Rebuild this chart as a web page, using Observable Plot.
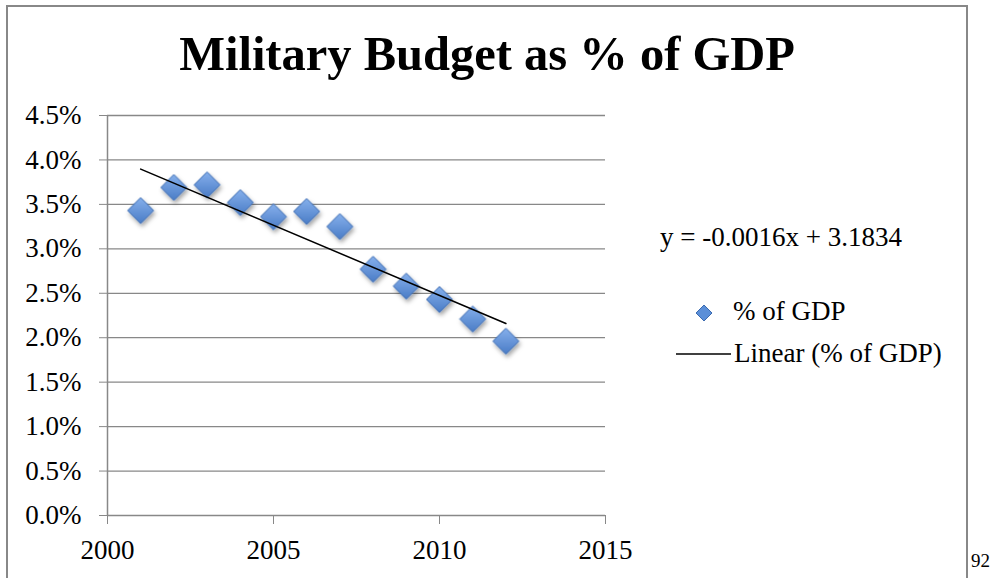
<!DOCTYPE html>
<html>
<head>
<meta charset="utf-8">
<script src="https://cdn.jsdelivr.net/npm/d3@7"></script>
<script src="https://cdn.jsdelivr.net/npm/@observablehq/plot@0.6"></script>
<style>
  html, body { margin: 0; padding: 0; background: #fff; overflow: hidden; }
  body { width: 992px; height: 578px; position: relative; font-family: "Liberation Serif", serif; color: #000; }
  #frame { position: absolute; left: 6px; top: 5px; width: 962px; height: 700px; box-sizing: border-box; border: 2px solid #888; }
  #chart { position: absolute; left: 0; top: 0; }
  .t { position: absolute; line-height: 1; white-space: nowrap; }
  #title { left: 0; width: 974px; top: 30px; text-align: center; font-size: 48.5px; font-weight: bold; }
  #eq { left: 660px; top: 224px; font-size: 27px; }
  #lg1 { left: 733px; top: 298px; font-size: 27px; }
  #lg2 { left: 734px; top: 340px; font-size: 27px; }
  #sym1 { position: absolute; left: 694px; top: 303px; }
  #sym2 { position: absolute; left: 676px; top: 346px; }
  #pg { left: 971px; top: 551px; font-size: 19px; }
</style>
</head>
<body>
<div id="frame"></div>
<div id="chart"></div>
<div class="t" id="title">Military Budget as % of GDP</div>
<div class="t" id="eq">y = -0.0016x + 3.1834</div>
<svg id="sym1" width="20" height="20"><path d="M10,2 L18,10 L10,18 L2,10 Z" fill="#5b8fd8" stroke="#3a6ab0" stroke-width="1"/></svg>
<div class="t" id="lg1">% of GDP</div>
<svg id="sym2" width="56" height="16"><line x1="0" y1="8" x2="55" y2="8" stroke="#000" stroke-width="1.6"/></svg>
<div class="t" id="lg2">Linear (% of GDP)</div>
<div class="t" id="pg">92</div>
<script>
const years = [2001, 2002, 2003, 2004, 2005, 2006, 2007, 2008, 2009, 2010, 2011, 2012];
const pctGDP = [3.43, 3.69, 3.72, 3.52, 3.36, 3.42, 3.25, 2.77, 2.58, 2.43, 2.21, 1.96];
const xTicks = [2000, 2005, 2010, 2015];
const yTicks = [0, 0.005, 0.01, 0.015, 0.02, 0.025, 0.03, 0.035, 0.04, 0.045];

const data = years.map((yr, i) => ({year: yr, share: pctGDP[i] / 100}));

const chart = Plot.plot({
  width: 992,
  height: 578,
  marginLeft: 107,
  marginRight: 387,
  marginTop: 115,
  marginBottom: 63,
  style: {fontFamily: "Liberation Serif", fontSize: "27px", color: "#000", background: "transparent", overflow: "visible"},
  x: {domain: [2000, 2015]},
  y: {domain: [0, 0.045]},
  marks: [
    Plot.gridY(yTicks, {stroke: "#888", strokeOpacity: 1, strokeWidth: 1.3}),
    Plot.ruleX([2000], {stroke: "#888", strokeWidth: 1.5}),
    Plot.axisY(yTicks, {tickSize: 8, tickPadding: 18, stroke: "#888", tickFormat: d3.format(".1%"), label: null}),
    Plot.axisX(xTicks, {tickSize: 9, tickPadding: 15, stroke: "#888", tickFormat: d => String(d), label: null}),
    Plot.dot(data, {x: "year", y: "share", symbol: "diamond2", r: 11.7, fill: "url(#dg)", stroke: "#3a6ab0", strokeWidth: 1}),
    Plot.linearRegressionY(data, {x: "year", y: "share", stroke: "#000", strokeWidth: 1.6, ci: 0})
  ]
});
document.getElementById("chart").appendChild(chart);

const svg = d3.select(chart);
const defs = svg.insert("defs", ":first-child");
const g = defs.append("linearGradient").attr("id", "dg").attr("x1", 0).attr("y1", 0).attr("x2", 0).attr("y2", 1);
g.append("stop").attr("offset", "0%").attr("stop-color", "#86b0ec");
g.append("stop").attr("offset", "100%").attr("stop-color", "#4a7cc6");
const f = defs.append("filter").attr("id", "sh").attr("x", "-50%").attr("y", "-50%").attr("width", "200%").attr("height", "200%");
f.append("feDropShadow").attr("dx", 1.5).attr("dy", 3).attr("stdDeviation", 2).attr("flood-color", "#000").attr("flood-opacity", 0.35);
svg.selectAll("g[aria-label=dot]").attr("filter", "url(#sh)");
</script>
</body>
</html>
